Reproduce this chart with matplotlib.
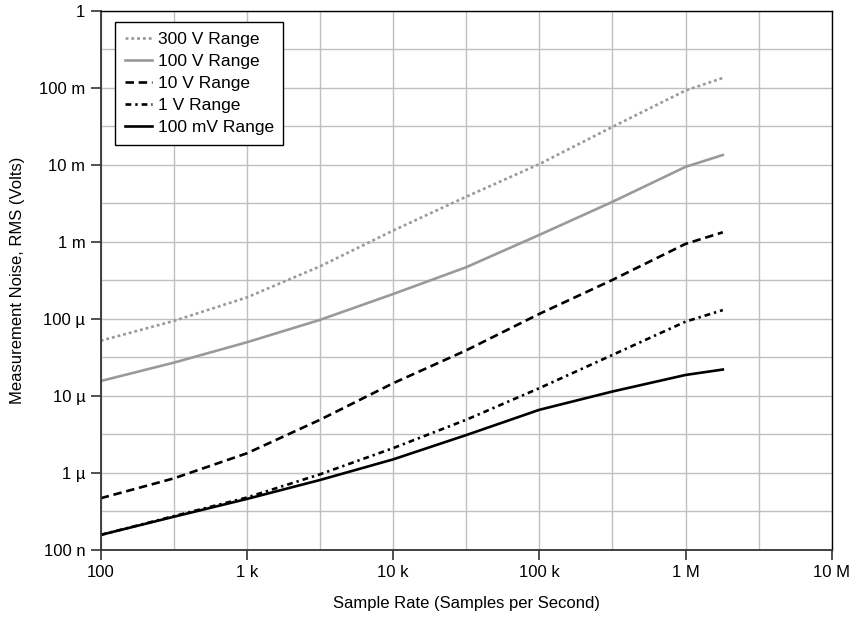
import numpy as np
import matplotlib.pyplot as plt
from matplotlib.ticker import FixedLocator, FixedFormatter, NullFormatter

plt.rcParams['font.family'] = ['Liberation Sans', 'DejaVu Sans']
plt.rcParams['font.size'] = 12

# sample rate (S/s) at decade and half-decade points
rate = [100, 316, 1e3, 3.16e3, 1e4, 3.16e4, 1e5, 3.16e5, 1e6, 1.8e6]

# RMS noise (volts)
noise_300v = [52e-6, 94e-6, 190e-6, 480e-6, 1.4e-3, 3.85e-3, 10.2e-3, 31e-3, 92e-3, 134e-3]
noise_100v = [15.6e-6, 27e-6, 49.7e-6, 97e-6, 210e-6, 468e-6, 1.23e-3, 3.3e-3, 9.4e-3, 13.4e-3]
noise_10v = [0.47e-6, 0.85e-6, 1.8e-6, 4.9e-6, 14.6e-6, 39e-6, 116e-6, 320e-6, 0.94e-3, 1.33e-3]
noise_1v = [0.157e-6, 0.275e-6, 0.48e-6, 0.96e-6, 2.1e-6, 4.9e-6, 12.6e-6, 34e-6, 92e-6, 130e-6]
noise_100mv = [0.157e-6, 0.27e-6, 0.46e-6, 0.81e-6, 1.5e-6, 3.1e-6, 6.6e-6, 11.4e-6, 18.7e-6, 22e-6]

x_ticks = [1e2, 1e3, 1e4, 1e5, 1e6, 1e7]
x_labels = ["100", "1 k", "10 k", "100 k", "1 M", "10 M"]
y_ticks = [1e-7, 1e-6, 1e-5, 1e-4, 1e-3, 1e-2, 1e-1, 1]
y_labels = ["100 n", "1 µ", "10 µ", "100 µ", "1 m", "10 m", "100 m", "1"]

gray = "#9a9a9a"

fig = plt.figure(figsize=(8.58, 6.17), dpi=100)
ax = fig.add_axes([100.7 / 858, 1 - 550 / 617, 731 / 858, 539.3 / 617])

lw = 1.9
ax.plot(rate, noise_300v, color=gray, lw=lw, linestyle=(0, (1.1, 1.1)), label="300 V Range")
ax.plot(rate, noise_100v, color=gray, lw=lw, label="100 V Range")
ax.plot(rate, noise_10v, color="black", lw=lw, linestyle=(0, (3.2, 1.8)), label="10 V Range")
ax.plot(rate, noise_1v, color="black", lw=lw, linestyle=(0, (2.2, 1.5, 0.9, 1.5)), label="1 V Range")
ax.plot(rate, noise_100mv, color="black", lw=lw, label="100 mV Range")

ax.set_xscale("log")
ax.set_yscale("log")
ax.set_xlim(1e2, 1e7)
ax.set_ylim(1e-7, 1)

ax.xaxis.set_major_locator(FixedLocator(x_ticks))
ax.xaxis.set_major_formatter(FixedFormatter(x_labels))
ax.yaxis.set_major_locator(FixedLocator(y_ticks))
ax.yaxis.set_major_formatter(FixedFormatter(y_labels))
ax.xaxis.set_minor_locator(FixedLocator([10 ** (k + 0.5) for k in range(2, 7)]))
ax.yaxis.set_minor_locator(FixedLocator([10 ** (k + 0.5) for k in range(-7, 0)]))
ax.xaxis.set_minor_formatter(NullFormatter())
ax.yaxis.set_minor_formatter(NullFormatter())

ax.tick_params(which="major", direction="out", length=7, width=1.2, color="#333333",
               labelsize=12, pad=4)
ax.tick_params(which="minor", length=0)
ax.grid(True, which="both", color="#c0c0c0", lw=1.0)
ax.set_axisbelow(True)

for s in ["left", "bottom"]:
    ax.spines[s].set_color("#333333")
    ax.spines[s].set_linewidth(1.3)
for s in ["top", "right"]:
    ax.spines[s].set_color("black")
    ax.spines[s].set_linewidth(1.0)

ax.set_xlabel("Sample Rate (Samples per Second)", fontsize=12)
ax.set_ylabel("Measurement Noise, RMS (Volts)", fontsize=12)
ax.xaxis.set_label_coords(0.5, -0.0983, transform=ax.transAxes)
ax.yaxis.set_label_coords(-0.1145, 0.5, transform=ax.transAxes)
ax.xaxis.label.set_va("center")
ax.yaxis.label.set_va("center")

leg = ax.legend(loc="upper left", bbox_to_anchor=(115 / 858, 1 - 22 / 617),
                bbox_transform=fig.transFigure, borderaxespad=0, fancybox=False,
                framealpha=1, edgecolor="black", handlelength=1.6, handletextpad=0.3,
                labelspacing=0.4, borderpad=0.55, fontsize=12.5)
leg.get_frame().set_linewidth(1.0)

fig.savefig("out.png", dpi=100)
